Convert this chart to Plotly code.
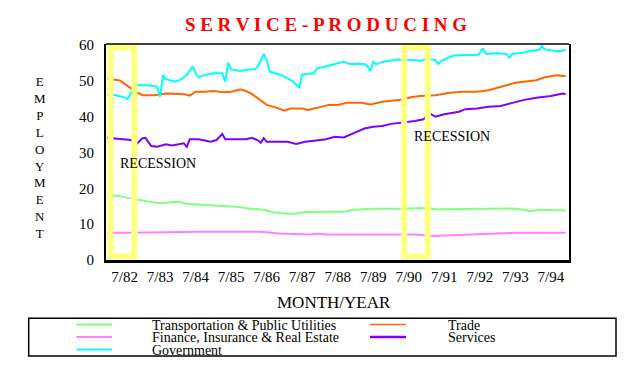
import plotly.graph_objects as go

# ---------------- data ----------------
series_names = [
    "Transportation & Public Utilities",
    "Trade",
    "Finance, Insurance & Real Estate",
    "Services",
    "Government",
]
series_colors = ["#80FF80", "#FF6600", "#FF80FF", "#8000FF", "#00FFFF"]

transport_months = ["1982-01", "1982-03", "1982-05", "1982-09", "1982-11", "1983-01", "1983-04",
                    "1983-07", "1983-09", "1984-01", "1984-04", "1984-08", "1985-02", "1985-08",
                    "1986-01", "1986-06", "1986-09", "1987-02", "1987-05", "1987-08", "1988-03",
                    "1988-09", "1988-12", "1989-07", "1990-04", "1991-01", "1991-04", "1992-02",
                    "1993-06", "1993-10", "1993-12", "1994-03", "1994-12"]
transport_values = [18.2, 18.1, 17.9, 17.2, 16.9, 16.7, 16.2,
                    15.8, 16.0, 16.3, 15.7, 15.5, 15.2, 14.9,
                    14.4, 14.0, 13.4, 12.9, 13.0, 13.4, 13.5,
                    13.5, 14.0, 14.3, 14.3, 14.5, 14.2, 14.3,
                    14.4, 14.0, 13.6, 14.0, 13.8]

trade_months = ["1982-01", "1982-03", "1982-05", "1982-06", "1982-08", "1982-09", "1982-11",
                "1983-01", "1983-03", "1983-05", "1983-09", "1983-12", "1984-03", "1984-05",
                "1984-07", "1984-10", "1985-01", "1985-04", "1985-07", "1985-10", "1985-12",
                "1986-02", "1986-04", "1986-05", "1986-07", "1986-10", "1987-01", "1987-03",
                "1987-07", "1987-09", "1987-12", "1988-04", "1988-07", "1988-10", "1989-03",
                "1989-06", "1989-10", "1990-01", "1990-05", "1990-08", "1990-11", "1991-04",
                "1991-09", "1992-01", "1992-06", "1992-10", "1993-01", "1993-04", "1993-07",
                "1993-11", "1994-02", "1994-05", "1994-09", "1994-12"]
trade_values = [50.6, 50.5, 50.2, 49.8, 48.6, 48.0, 46.8,
                46.0, 45.9, 46.0, 46.5, 46.3, 46.3, 45.9,
                47.0, 47.0, 47.2, 46.8, 47.0, 47.6, 47.2,
                46.3, 45.1, 44.7, 43.3, 42.6, 41.7, 42.3,
                42.3, 41.9, 42.5, 43.3, 43.3, 43.9, 43.9,
                43.4, 44.2, 44.4, 44.8, 45.5, 45.8, 46.0,
                46.7, 47.0, 47.0, 47.4, 48.2, 48.8, 49.5,
                49.8, 50.2, 51.0, 51.6, 51.3]

finance_months = ["1982-01", "1982-10", "1984-08", "1985-08", "1986-05", "1986-11", "1987-10",
                  "1987-12", "1988-03", "1989-05", "1990-09", "1991-03", "1991-12", "1992-08",
                  "1993-07", "1994-12"]
finance_values = [7.6, 7.6, 7.9, 8.0, 7.9, 7.4, 7.1,
                  7.4, 7.1, 7.1, 7.1, 6.7, 7.0, 7.4,
                  7.6, 7.6]

services_months = ["1982-01", "1982-03", "1982-05", "1982-09", "1982-11", "1983-01", "1983-02",
                   "1983-03", "1983-04", "1983-06", "1983-09", "1983-11", "1984-01", "1984-03",
                   "1984-04", "1984-05", "1984-08", "1984-12", "1985-02", "1985-04", "1985-05",
                   "1985-09", "1985-12", "1986-02", "1986-04", "1986-05", "1986-06", "1986-07",
                   "1986-11", "1987-02", "1987-05", "1987-08", "1987-11", "1988-03", "1988-06",
                   "1988-09", "1988-12", "1989-02", "1989-04", "1989-07", "1989-10", "1990-01",
                   "1990-05", "1990-09", "1990-12", "1991-02", "1991-04", "1991-07", "1991-12",
                   "1992-02", "1992-06", "1992-10", "1993-02", "1993-05", "1993-10", "1994-02",
                   "1994-07", "1994-11", "1994-12"]
services_values = [34.1, 34.0, 33.7, 33.5, 32.4, 34.0, 34.1,
                   33.0, 31.8, 31.6, 32.3, 32.0, 32.4, 32.6,
                   31.6, 33.7, 33.7, 33.0, 33.5, 35.2, 33.7,
                   33.7, 33.7, 34.1, 33.4, 32.7, 34.0, 33.0,
                   33.0, 33.0, 32.4, 33.0, 33.3, 33.7, 34.4,
                   34.2, 35.3, 36.1, 36.7, 37.2, 37.4, 38.0,
                   38.3, 38.8, 39.3, 40.9, 40.0, 40.7, 41.4,
                   42.1, 42.3, 42.8, 43.0, 43.7, 44.7, 45.3,
                   45.8, 46.5, 46.3]

government_months = ["1982-01", "1982-03", "1982-05", "1982-07", "1982-08", "1982-09", "1982-11",
                     "1983-03", "1983-06", "1983-07", "1983-08", "1983-09", "1983-12", "1984-02",
                     "1984-04", "1984-06", "1984-07", "1984-08", "1984-10", "1985-01", "1985-04",
                     "1985-05", "1985-06", "1985-07", "1985-10", "1986-01", "1986-03", "1986-04",
                     "1986-06", "1986-07", "1986-08", "1986-10", "1986-12", "1987-02", "1987-04",
                     "1987-06", "1987-07", "1987-11", "1987-12", "1988-03", "1988-06", "1988-09",
                     "1988-11", "1989-04", "1989-05", "1989-06", "1989-07", "1989-08", "1989-10",
                     "1990-01", "1990-03", "1990-07", "1990-11", "1991-01", "1991-04", "1991-05",
                     "1991-06", "1991-10", "1992-01", "1992-06", "1992-07", "1992-08", "1992-09",
                     "1993-01", "1993-04", "1993-05", "1993-06", "1993-10", "1993-12", "1994-03",
                     "1994-04", "1994-05", "1994-09", "1994-11", "1994-12"]
government_values = [46.0, 46.2, 45.8, 45.4, 44.9, 46.5, 48.8,
                     48.8, 48.4, 45.6, 51.6, 50.5, 49.8, 50.4,
                     51.6, 54.1, 52.1, 51.0, 51.6, 52.1, 52.1,
                     49.8, 55.1, 53.2, 52.8, 53.2, 53.2, 54.0,
                     57.5, 55.8, 52.6, 52.1, 51.6, 50.7, 49.8,
                     48.1, 51.8, 52.1, 53.5, 54.0, 54.7, 55.4,
                     54.7, 54.7, 54.1, 52.8, 55.3, 54.6, 55.3,
                     55.6, 56.0, 55.9, 55.6, 56.2, 55.8, 54.7,
                     55.6, 57.0, 57.2, 57.2, 57.7, 59.1, 57.5,
                     57.7, 57.5, 56.5, 57.5, 57.9, 58.4, 58.6,
                     59.7, 58.8, 58.3, 58.4, 58.8]

tick_months = ["1982-07-01", "1983-07-01", "1984-07-01", "1985-07-01", "1986-07-01",
               "1987-07-01", "1988-07-01", "1989-07-01", "1990-07-01", "1991-07-01",
               "1992-07-01", "1993-07-01", "1994-07-01"]
tick_labels = ["7/82", "7/83", "7/84", "7/85", "7/86", "7/87", "7/88", "7/89", "7/90",
               "7/91", "7/92", "7/93", "7/94"]
y_ticks = [0, 10, 20, 30, 40, 50, 60]

recession_periods = [("1982-02-06", "1982-10-10"), ("1990-05-15", "1991-01-13")]
recession_label = "RECESSION"

all_months = [transport_months, trade_months, finance_months, services_months, government_months]
all_values = [transport_values, trade_values, finance_values, services_values, government_values]

# ---------------- figure ----------------
SERIF = "Liberation Serif, Times New Roman, serif"
PAGE_OFF = 8                      # default body margin of the html page
W, H = 640 - 2 * PAGE_OFF, 380 - 2 * PAGE_OFF
# plot area in page pixels: x 106..569, y 44..260
L, T = 106 - PAGE_OFF, 44 - PAGE_OFF
R, B = W - (569 - PAGE_OFF), H - (260 - PAGE_OFF)
PW, PH = W - L - R, H - T - B


def px(x):
    """page pixel x -> paper x"""
    return (x - PAGE_OFF - L) / PW


def py(y):
    """page pixel y -> paper y"""
    return (H - B - (y - PAGE_OFF)) / PH


fig = go.Figure()
for name, color, xs, ys in zip(series_names, series_colors, all_months, all_values):
    fig.add_trace(go.Scatter(x=xs, y=ys, mode="lines", name=name,
                             line=dict(color=color, width=2), showlegend=False,
                             hoverinfo="x+y+name"))

shapes = []
for x0, x1 in recession_periods:
    shapes.append(dict(type="rect", xref="x", yref="y", x0=x0, x1=x1, y0=1.0, y1=59.3,
                       line=dict(color="#FFFF80", width=6), fillcolor="rgba(0,0,0,0)",
                       layer="above"))
# top frame line
shapes.append(dict(type="line", xref="paper", yref="paper", x0=0, x1=1, y0=1, y1=1,
                   line=dict(color="black", width=1.5)))
# legend box
shapes.append(dict(type="rect", xref="paper", yref="paper", x0=px(28.7), x1=px(616),
                   y0=py(356), y1=py(318.3), line=dict(color="black", width=1.5)))

annotations = []
# recession labels
annotations.append(dict(xref="x", yref="y", x="1982-04-20", y=27.0, text=recession_label,
                        showarrow=False, xanchor="left", yanchor="middle",
                        font=dict(family=SERIF, size=14, color="black")))
annotations.append(dict(xref="x", yref="y", x="1990-08-05", y=34.4, text=recession_label,
                        showarrow=False, xanchor="left", yanchor="middle",
                        font=dict(family=SERIF, size=14, color="black")))
# axis titles
annotations.append(dict(xref="paper", yref="paper", x=px(40), y=py(157.3),
                        text="<br>".join("EMPLOYMENT"), showarrow=False,
                        xanchor="center", yanchor="middle",
                        font=dict(family=SERIF, size=13, color="black")))
annotations.append(dict(xref="paper", yref="paper", x=px(334), y=py(302),
                        text="MONTH/YEAR", showarrow=False,
                        xanchor="center", yanchor="middle",
                        font=dict(family=SERIF, size=17, color="black")))

# legend (drawn manually to match the original layout)
legend_slots = [  # (line x0, line x1, text x, row y) in page pixels
    (76.5, 112, 150, 324.5),
    (370, 406, 445.7, 324.5),
    (76.5, 112, 150, 337),
    (370, 406, 445.7, 337),
    (76.5, 112, 150, 349.5),
]
legend_widths = [2, 1.5, 2, 2.5, 2]
for (lx0, lx1, tx, ry), name, color, lw in zip(legend_slots, series_names, series_colors, legend_widths):
    shapes.append(dict(type="line", xref="paper", yref="paper", x0=px(lx0), x1=px(lx1),
                       y0=py(ry), y1=py(ry), line=dict(color=color, width=lw)))
    annotations.append(dict(xref="paper", yref="paper", x=px(tx), y=py(ry + 0.5), text=name,
                            showarrow=False, xanchor="left", yanchor="middle",
                            font=dict(family=SERIF, size=14, color="black")))

fig.update_layout(
    width=W, height=H,
    margin=dict(l=L, r=R, t=T, b=B, autoexpand=False),
    paper_bgcolor="white", plot_bgcolor="white",
    title=dict(text=" ".join("SERVICE-PRODUCING"), xref="container", yref="container",
               x=(326 - PAGE_OFF) / W, y=1 - (24 - PAGE_OFF) / H,
               xanchor="center", yanchor="middle",
               font=dict(family=SERIF, size=19, color="#FF0000", weight="bold")),
    shapes=shapes,
    annotations=annotations,
    showlegend=False,
    xaxis=dict(type="date", range=["1981-12-22", "1995-01-04"],
               tickvals=tick_months, ticktext=tick_labels, ticks="",
               showgrid=False, zeroline=False, showline=True, linecolor="black", linewidth=3,
               ticklabelstandoff=1,
               tickfont=dict(family=SERIF, size=15, color="black")),
    yaxis=dict(range=[0, 60.3], tickvals=y_ticks, ticks="", showgrid=False, zeroline=False,
               showline=True, linecolor="black", linewidth=2, mirror=True,
               ticklabelstandoff=7,
               tickfont=dict(family=SERIF, size=15, color="black")),
)

fig.write_html("out.html")
